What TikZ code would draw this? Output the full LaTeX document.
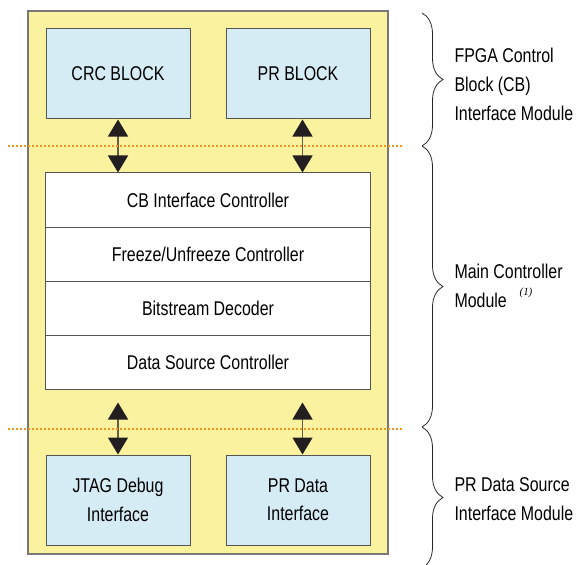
\documentclass[tikz,border=0pt]{standalone}
\usepackage{fontspec}
\setmainfont{Liberation Sans}[FakeStretch=0.8]
\newfontfamily\notefont{Liberation Serif}
\usetikzlibrary{arrows.meta,decorations.pathreplacing}
\definecolor{fpgayellow}{RGB}{250,242,158}
\definecolor{blockblue}{RGB}{214,236,244}
\definecolor{borderdark}{RGB}{85,85,85}
\definecolor{bordergray}{RGB}{120,120,120}
\definecolor{dotorange}{RGB}{247,148,29}
\definecolor{shaftgray}{RGB}{95,95,75}
\definecolor{tipblack}{RGB}{35,31,32}
\begin{document}
\begin{tikzpicture}[x=1bp,y=-1bp,
  lbl/.style={font=\fontsize{20}{28.5}\selectfont, text=black},
  outerbox/.style={draw=bordergray, fill=fpgayellow, line width=1.2bp, minimum width=360bp, minimum height=543bp, inner sep=0pt},
  bluebox/.style={draw=borderdark, fill=blockblue, line width=1bp, minimum width=144bp, minimum height=90bp, inner sep=0pt, align=center, lbl},
  rowbox/.style={draw=borderdark, fill=white, line width=1bp, minimum width=324bp, minimum height=54bp, inner sep=0pt, lbl},
  biarrow/.style={draw=shaftgray, line width=1.2bp, {Triangle[width=20bp,length=17bp,color=tipblack]}-{Triangle[width=20bp,length=17bp,color=tipblack]}},
  sep/.style={draw=dotorange, line width=1.6bp, dash pattern=on 1.8bp off 2.2bp},
  modbrace/.style={draw=black!85, line width=0.8bp, decorate, decoration={brace, amplitude=21bp, aspect=0.5}},
  sidetext/.style={lbl, font=\fontsize{20}{29}\selectfont, anchor=west, align=left}
]
\useasboundingbox (0,0) rectangle (580,565);

\node[outerbox] (outer) at (208,282.5) {};

\node[bluebox] (crc) at (118,74) {CRC BLOCK};
\node[bluebox] (pr) at (298,74) {PR BLOCK};

\node[rowbox] (cb) at (208,200) {CB Interface Controller};
\node[rowbox] (frz) at (208,254) {Freeze/Unfreeze Controller};
\node[rowbox] (bit) at (208,308) {Bitstream Decoder};
\node[rowbox] (dsc) at (208,362) {Data Source Controller};

\node[bluebox] (jtag) at (118,500) {JTAG Debug\\Interface};
\node[bluebox] (prd) at (298,500) {PR Data\\Interface};

\coordinate (prs) at ([xshift=4.5bp]pr.south);
\coordinate (prdn) at ([xshift=4.5bp]prd.north);

\draw[biarrow] (crc.south) -- (cb.north -| crc.south);
\draw[biarrow] (prs) -- (cb.north -| prs);
\draw[biarrow, shorten <=13bp] (dsc.south -| jtag.north) -- (jtag.north);
\draw[biarrow, shorten <=13bp] (dsc.south -| prdn) -- (prdn);

\coordinate (s1a) at (8,146);
\coordinate (s1b) at (404,146);
\coordinate (s2a) at (8,429);
\coordinate (s2b) at (404,429);
\draw[sep] (s1a) -- (s1b);
\draw[sep] (s2a) -- (s2b);

\coordinate (b0) at (422,13);
\coordinate (b1) at (422,146);
\coordinate (b2) at (422,427);
\coordinate (b3) at (422,568);
\draw[modbrace] (b0) -- (b1);
\draw[modbrace] (b1) -- (b2);
\draw[modbrace] (b2) -- (b3);

\node[sidetext] (t1) at (451,84) {FPGA Control\\Block (CB)\\Interface Module};
\node[sidetext] (t2) at (451,286) {Main Controller\\Module};
\node[anchor=center, font=\notefont\itshape\fontsize{11}{11}\selectfont] (n1) at (526,293) {(1)};
\node[sidetext] (t3) at (451,499) {PR Data Source\\Interface Module};
\end{tikzpicture}
\end{document}
